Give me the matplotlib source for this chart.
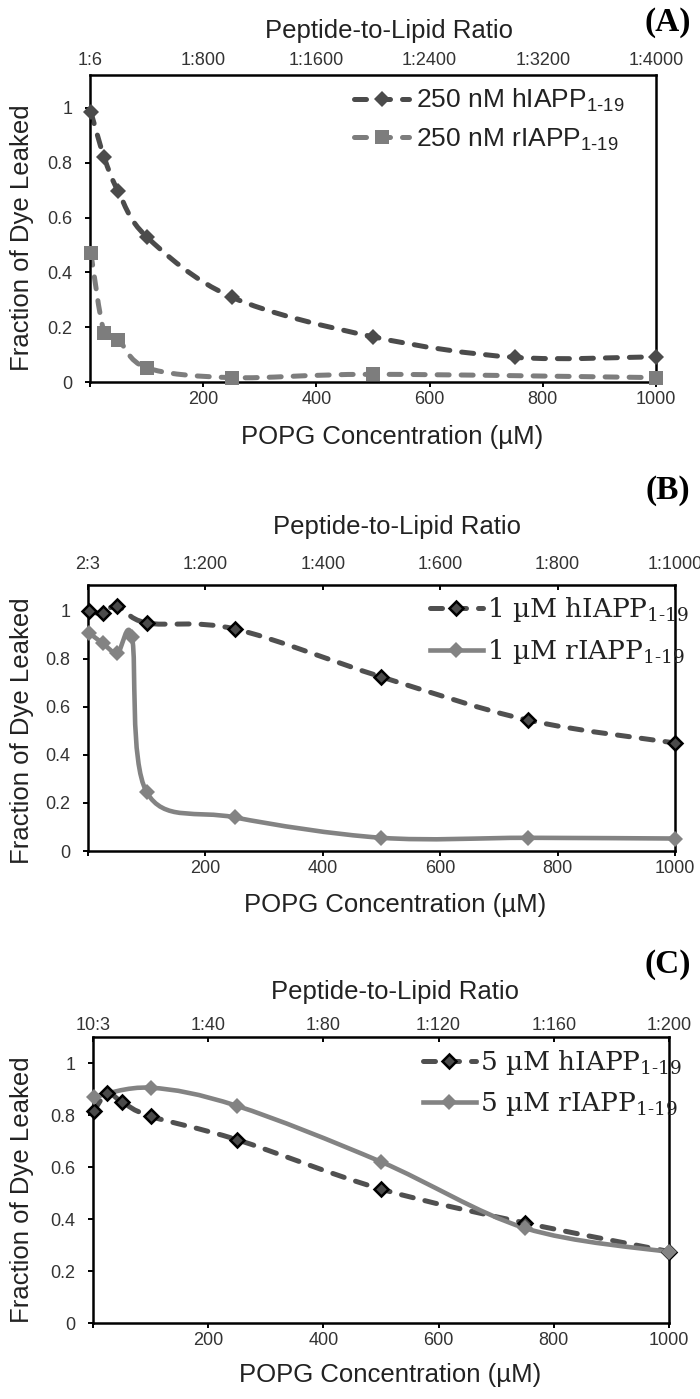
import numpy as np
import matplotlib
matplotlib.use('Agg')
import matplotlib.pyplot as plt
from matplotlib.path import Path
from matplotlib.patches import PathPatch
from matplotlib.lines import Line2D

plt.rcParams['font.family'] = ['Liberation Sans', 'DejaVu Sans']
plt.rcParams['mathtext.fontset'] = 'custom'
plt.rcParams['mathtext.rm'] = 'DejaVu Serif'
plt.rcParams['mathtext.sf'] = 'Liberation Sans'

# ---------------- data ----------------
x_ticks = [0, 200, 400, 600, 800, 1000]
x_tick_labels = ['', '200', '400', '600', '800', '1000']
y_ticks = [0, 0.2, 0.4, 0.6, 0.8, 1.0]
y_tick_labels = ['0', '0.2', '0.4', '0.6', '0.8', '1']

# Panel A (250 nM)
a_x_h = [1.5, 25, 50, 100, 250, 500, 750, 1000]
a_y_h = [0.985, 0.82, 0.695, 0.53, 0.31, 0.165, 0.09, 0.092]
a_x_r = [1.5, 25, 50, 100, 250, 500, 1000]
a_y_r = [0.47, 0.18, 0.155, 0.052, 0.016, 0.028, 0.016]
a_top_labels = ['1:6', '1:800', '1:1600', '1:2400', '1:3200', '1:4000']
a_labels = ['250 nM hIAPP', '250 nM rIAPP']

# Panel B (1 uM)
b_x_h = [1.5, 25, 50, 100, 250, 500, 750, 1000]
b_y_h = [1.0, 0.99, 1.02, 0.95, 0.925, 0.725, 0.545, 0.45]
b_x_r = [1.5, 25, 50, 75, 100, 250, 500, 750, 1000]
b_y_r = [0.91, 0.865, 0.825, 0.89, 0.245, 0.14, 0.055, 0.055, 0.052]
b_top_labels = ['2:3', '1:200', '1:400', '1:600', '1:800', '1:1000']
b_labels = ['1 µM hIAPP', '1 µM rIAPP']

# Panel C (5 uM)
c_x_h = [1.5, 25, 50, 100, 250, 500, 750, 1000]
c_y_h = [0.815, 0.885, 0.85, 0.795, 0.705, 0.515, 0.385, 0.275]
c_x_r = [1.5, 100, 250, 500, 750, 1000]
c_y_r = [0.87, 0.905, 0.835, 0.62, 0.365, 0.273]
c_top_labels = ['10:3', '1:40', '1:80', '1:120', '1:160', '1:200']
c_labels = ['5 µM hIAPP', '5 µM rIAPP']

SUB = '1\u201019'

# ---------------- figure ----------------
W, H, DPI = 700, 1399, 100
fig = plt.figure(figsize=(W / DPI, H / DPI), dpi=DPI)


def px_rect(l, t, r, b):
    return [l / W, 1 - b / H, (r - l) / W, (b - t) / H]


def fx(x):
    return x / W


def fy(y):
    return 1 - y / H


def smooth_path(x, y):
    p = np.column_stack([x, y]).astype(float)
    n = len(p)
    verts = [p[0]]
    codes = [Path.MOVETO]
    for i in range(n - 1):
        p0 = p[i - 1] if i > 0 else p[i]
        p1 = p[i]
        p2 = p[i + 1]
        p3 = p[i + 2] if i + 2 < n else p[i + 1]
        c1 = p1 + (p2 - p0) / 6.0
        c2 = p2 - (p3 - p1) / 6.0
        verts += [c1, c2, p2]
        codes += [Path.CURVE4] * 3
    return Path(verts, codes)


DASH = (0, (2.4, 2.4))


def draw_series(ax, x, y, color, ls, lw, marker, ms, mfc, mec, mew):
    patch = PathPatch(smooth_path(x, y), transform=ax.transData, fill=False,
                      edgecolor=color, lw=lw, linestyle=ls, capstyle='round',
                      joinstyle='round', zorder=2)
    ax.add_patch(patch)
    ax.plot(x, y, ls='none', marker=marker, ms=ms, mfc=mfc, mec=mec, mew=mew,
            zorder=3, clip_on=False)


def setup(ax, ytop, top_labels, top_pad, top_len):
    ax.set_xlim(0, 1000)
    ax.set_ylim(0, ytop)
    ax.set_xticks(x_ticks, x_tick_labels)
    ax.set_yticks(y_ticks, y_tick_labels)
    for sp in ax.spines.values():
        sp.set_linewidth(1.8)
        sp.set_color('black')
    ax.tick_params(axis='x', direction='out', length=3.6, width=1.4,
                   labelsize=13, pad=3, labelcolor='#333333')
    ax.tick_params(axis='y', direction='out', length=3.6, width=1.4,
                   labelsize=13, pad=9, labelcolor='#333333')
    ax2 = ax.twiny()
    ax2.set_xlim(0, 1000)
    ax2.set_xticks(x_ticks, top_labels)
    ax2.tick_params(axis='x', direction='in', length=top_len, width=1.4,
                    labelsize=13, pad=top_pad, labelcolor='#333333')
    for sp in ax2.spines.values():
        sp.set_visible(False)
    return ax2


TXT = '#222222'
SANS = 18.5

# ---------------- Panel A ----------------
axA = fig.add_axes(px_rect(90, 75, 656, 382))
setup(axA, 1.12, a_top_labels, 4, 0)
colA_h, colA_r = '#4b4b4b', '#7d7d7d'
draw_series(axA, a_x_r, a_y_r, colA_r, DASH, 3.6, 's', 10.5, colA_r, colA_r, 0)
draw_series(axA, a_x_h, a_y_h, colA_h, DASH, 3.6, 'D', 8.5, colA_h, colA_h, 0)
hA = [Line2D([], [], color=colA_h, lw=3.6, ls=DASH, dash_capstyle='round',
             marker='D', ms=8.5, mfc=colA_h, mec=colA_h, mew=0),
      Line2D([], [], color=colA_r, lw=3.6, ls=DASH, dash_capstyle='round',
             marker='s', ms=10.5, mfc=colA_r, mec=colA_r, mew=0)]
legA = axA.legend(hA, [l + '$_{\\mathsf{' + SUB + '}}$' for l in a_labels],
                  loc='upper left', bbox_to_anchor=(fx(354), fy(87)),
                  bbox_transform=fig.transFigure, frameon=False,
                  prop={'family': 'Liberation Sans', 'size': 19},
                  handlelength=2.1, handletextpad=0.25, labelspacing=0.45,
                  borderpad=0, borderaxespad=0, numpoints=1)
for t in legA.get_texts():
    t.set_color(TXT)

fig.text(fx(668), fy(22), '(A)', family='Liberation Serif', weight='bold',
         size=24, ha='center', va='center', color='black')
fig.text(fx(389), fy(31), 'Peptide-to-Lipid Ratio', size=SANS, ha='center',
         va='center', color=TXT)
fig.text(fx(392), fy(437), 'POPG Concentration (µM)', size=SANS, ha='center',
         va='center', color=TXT)
fig.text(fx(22), fy(238), 'Fraction of Dye Leaked', size=SANS, ha='center',
         va='center', rotation=90, color=TXT)

# ---------------- Panel B ----------------
axB = fig.add_axes(px_rect(88, 585, 675, 851))
setup(axB, 1.108, b_top_labels, 8.5, 3.6)
colB_h, colB_r = '#505050', '#838383'
draw_series(axB, b_x_r, b_y_r, colB_r, '-', 3.3, 'D', 8, colB_r, colB_r, 0)
draw_series(axB, b_x_h, b_y_h, colB_h, DASH, 3.6, 'D', 7, '#4a4a4a', 'black', 1.8)
hB = [Line2D([], [], color=colB_h, lw=3.6, ls=DASH, dash_capstyle='round',
             marker='D', ms=7, mfc='#4a4a4a', mec='black', mew=1.8),
      Line2D([], [], color=colB_r, lw=3.3, ls='-', marker='D', ms=8,
             mfc=colB_r, mec=colB_r, mew=0)]
legB = axB.legend(hB, [l + '$_{\\mathrm{' + SUB + '}}$' for l in b_labels],
                  loc='upper left', bbox_to_anchor=(fx(430), fy(595)),
                  bbox_transform=fig.transFigure, frameon=False,
                  prop={'family': 'DejaVu Serif', 'size': 19},
                  handlelength=2.0, handletextpad=0.15, labelspacing=0.5,
                  borderpad=0, borderaxespad=0, numpoints=1)
for t in legB.get_texts():
    t.set_color(TXT)

fig.text(fx(668), fy(490), '(B)', family='Liberation Serif', weight='bold',
         size=24, ha='center', va='center', color='black')
fig.text(fx(397), fy(527), 'Peptide-to-Lipid Ratio', size=SANS, ha='center',
         va='center', color=TXT)
fig.text(fx(395), fy(905), 'POPG Concentration (µM)', size=SANS, ha='center',
         va='center', color=TXT)
fig.text(fx(22), fy(731), 'Fraction of Dye Leaked', size=SANS, ha='center',
         va='center', rotation=90, color=TXT)

# ---------------- Panel C ----------------
axC = fig.add_axes(px_rect(93, 1037, 669, 1323))
setup(axC, 1.1, c_top_labels, 2.5, 3.6)
colC_h, colC_r = '#505050', '#838383'
draw_series(axC, c_x_h, c_y_h, colC_h, DASH, 3.6, 'D', 7, '#4a4a4a', 'black', 1.8)
draw_series(axC, c_x_r, c_y_r, colC_r, '-', 3.3, 'D', 8, colC_r, colC_r, 0)
hC = [Line2D([], [], color=colC_h, lw=3.6, ls=DASH, dash_capstyle='round',
             marker='D', ms=7, mfc='#4a4a4a', mec='black', mew=1.8),
      Line2D([], [], color=colC_r, lw=3.3, ls='-', marker='D', ms=8,
             mfc=colC_r, mec=colC_r, mew=0)]
legC = axC.legend(hC, [l + '$_{\\mathrm{' + SUB + '}}$' for l in c_labels],
                  loc='upper left', bbox_to_anchor=(fx(423), fy(1048)),
                  bbox_transform=fig.transFigure, frameon=False,
                  prop={'family': 'DejaVu Serif', 'size': 19},
                  handlelength=2.0, handletextpad=0.15, labelspacing=0.5,
                  borderpad=0, borderaxespad=0, numpoints=1)
for t in legC.get_texts():
    t.set_color(TXT)

fig.text(fx(668), fy(965), '(C)', family='Liberation Serif', weight='bold',
         size=24, ha='center', va='center', color='black')
fig.text(fx(395), fy(992), 'Peptide-to-Lipid Ratio', size=SANS, ha='center',
         va='center', color=TXT)
fig.text(fx(390), fy(1375), 'POPG Concentration (µM)', size=SANS, ha='center',
         va='center', color=TXT)
fig.text(fx(22), fy(1190), 'Fraction of Dye Leaked', size=SANS, ha='center',
         va='center', rotation=90, color=TXT)

fig.savefig('out.png', dpi=DPI, facecolor='white')
